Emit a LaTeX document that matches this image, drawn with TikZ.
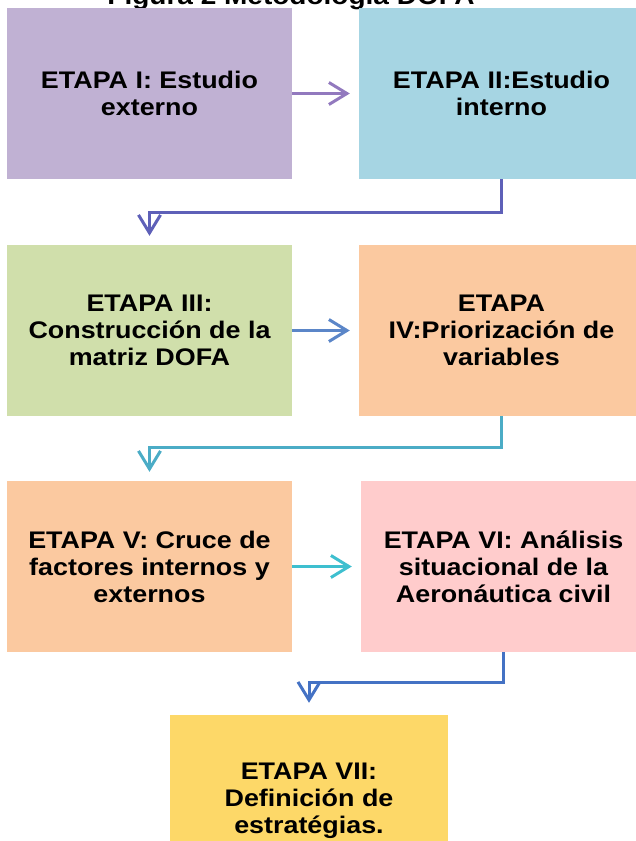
\documentclass[tikz,border=0pt]{standalone}
\usepackage{fontspec}
\setmainfont{Liberation Sans}[FakeStretch=1.12]
\usetikzlibrary{arrows.meta}

\definecolor{lila}{HTML}{C0B1D3}
\definecolor{celeste}{HTML}{A6D5E3}
\definecolor{verde}{HTML}{D0DFAB}
\definecolor{durazno}{HTML}{FBC9A0}
\definecolor{rosa}{HTML}{FFCCCC}
\definecolor{amarillo}{HTML}{FDD868}
\definecolor{flechalila}{HTML}{9279BE}
\definecolor{flechaindigo}{HTML}{5E60B8}
\definecolor{flechaazul}{HTML}{5B86C8}
\definecolor{flechaturquesa}{HTML}{4BACC6}
\definecolor{flechacian}{HTML}{3EBFCF}
\definecolor{flechaoscura}{HTML}{4472C4}

\begin{document}
\begin{tikzpicture}[x=1pt,y=-1pt,
  etapa/.style={minimum width=285pt,minimum height=171pt,inner sep=0pt,align=center,
    font=\fontsize{24}{27}\selectfont\bfseries},
  flecha/.style={line width=3pt,-{Straight Barb[length=18pt,width=22pt]},shorten >=9pt}]
\useasboundingbox (0,0) rectangle (636,841);

% Titulo (cortado arriba)
\node[font=\fontsize{25}{27}\selectfont\bfseries,anchor=base] (titulo) at (291,4) {Figura 2 Metodología DOFA};

% Fila 1
\node[etapa,fill=lila] (e1) at (149.5,93.5) {ETAPA I: Estudio\\externo};
\node[etapa,fill=celeste] (e2) at (501.5,93.5) {ETAPA II:Estudio\\interno};
\draw[flecha,flechalila] (e1) -- (e2);

% Fila 2
\node[etapa,fill=verde] (e3) at (149.5,330.5) {ETAPA III:\\Construcción de la\\matriz DOFA};
\node[etapa,fill=durazno] (e4) at (501.5,330.5) {ETAPA\\IV:Priorización de\\variables};
\draw[flecha,flechaindigo] (e2.south) -- ++(0,33) -| (e3.north);
\draw[flecha,flechaazul] (e3) -- (e4);

% Fila 3
\node[etapa,fill=durazno] (e5) at (149.5,566.5) {ETAPA V: Cruce de\\factores internos y\\externos};
\node[etapa,fill=rosa] (e6) at (503.5,566.5) {ETAPA VI: Análisis\\situacional de la\\Aeronáutica civil};
\draw[flecha,flechaturquesa] (e4.south) -- ++(0,31) -| (e5.north);
\draw[flecha,flechacian] (e5) -- (e6);

% Etapa final
\node[etapa,fill=amarillo,minimum width=278pt] (e7) at (309,800.5) {ETAPA VII:\\Definición de\\estratégias.};
\draw[flecha,flechaoscura,shorten >=12pt] (e6.south) -- ++(0,30) -| (e7.north);
\end{tikzpicture}
\end{document}
